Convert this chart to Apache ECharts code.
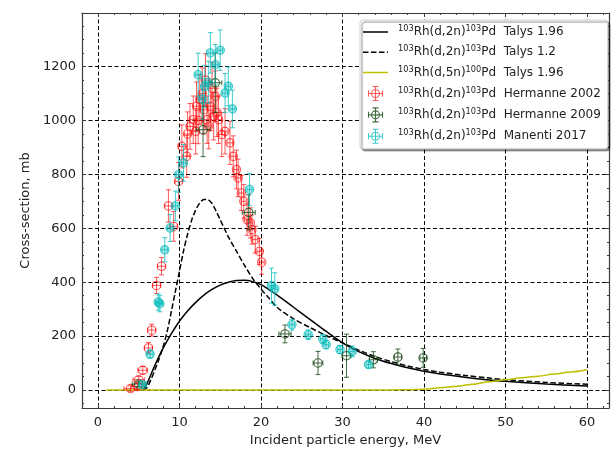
<!DOCTYPE html>
<html><head><meta charset="utf-8">
<script src="https://cdn.jsdelivr.net/npm/echarts@6/dist/echarts.min.js"></script>
<style>html,body{margin:0;padding:0;background:#fff}#c{width:611px;height:449px}</style>
</head><body><div id="c"></div>
<script>
// ---- tick values ----
const xMajor = [0, 10, 20, 30, 40, 50, 60];
const xMinor = [2,4,6,8,12,14,16,18,22,24,26,28,32,34,36,38,42,44,46,48,52,54,56,58,62];
const yMajor = [0, 200, 400, 600, 800, 1000, 1200];
const yMinor = [-50,50,100,150,250,300,350,450,500,550,650,700,750,850,900,950,1050,1100,1150,1250,1300,1350];

// ---- series names ----
const nameT196 = '¹⁰³Rh(d,2n)¹⁰³Pd  Talys 1.96';
const nameT12  = '¹⁰³Rh(d,2n)¹⁰³Pd  Talys 1.2';
const nameT5n  = '¹⁰³Rh(d,5n)¹⁰⁰Pd  Talys 1.96';
const nameH02  = '¹⁰³Rh(d,2n)¹⁰³Pd  Hermanne 2002';
const nameH09  = '¹⁰³Rh(d,2n)¹⁰³Pd  Hermanne 2009';
const nameM17  = '¹⁰³Rh(d,2n)¹⁰³Pd  Manenti 2017';

// ---- Talys 1.96 (d,2n) ----
const t196E = [5.5, 6, 7, 8, 9, 10, 11, 12, 13, 14, 15, 16, 17, 18, 19, 20, 22, 24, 26, 28, 30, 32, 34, 36, 38, 40, 42, 45, 48, 50, 55, 60];
const t196S = [0, 22, 92, 155, 208, 255, 293, 325, 352, 373, 389, 400, 406, 407, 402, 391, 352, 307, 262, 217, 175, 142, 117, 98, 82, 69, 59, 47, 37, 32, 22, 15];
// ---- Talys 1.2 (d,2n) ----
const t12E = [5.5, 6, 6.5, 7, 7.5, 8, 8.5, 9, 9.5, 10, 10.5, 11, 11.5, 12, 12.5, 13, 13.5, 14, 14.5, 15, 15.5, 16, 17, 18, 19, 20, 21, 22, 24, 26, 28, 30, 32, 34, 36, 38, 40, 42, 45, 48, 50, 55, 60];
const t12S = [0, 8, 38, 75, 115, 160, 217, 290, 365, 440, 515, 578, 630, 668, 694, 707, 706, 692, 664, 632, 600, 568, 515, 462, 413, 375, 340, 306, 264, 232, 202, 175, 148, 124, 105, 89, 76, 66, 54, 44, 38, 28, 21];
// ---- Talys 1.96 (d,5n) ----
const t5nE = [1, 36, 38, 40, 42, 44, 46, 48, 50, 52, 54, 56, 58, 60];
const t5nS = [0, 0, 1, 3, 8, 14, 21, 30, 38, 45, 51, 59, 67, 75];

// ---- Hermanne 2002 ----
const h02E  = [4.0, 4.85, 5.0, 5.5, 6.2, 6.6, 7.2, 7.8, 8.65, 9.3, 9.9, 10.3, 10.9, 11.0, 11.3, 11.7, 12.0, 12.1, 12.3, 12.5, 12.8, 13.0, 13.2, 13.4, 13.6, 13.8, 14.0, 14.2, 14.4, 14.6, 14.8, 15.2, 15.6, 16.2, 16.6, 17.0, 17.2, 17.6, 17.9, 18.3, 18.7, 18.9, 19.3, 19.8, 20.1];
const h02S  = [5, 13, 38, 73, 156, 222, 388, 459, 683, 607, 774, 904, 867, 950, 978, 1003, 960, 1053, 1000, 1078, 1100, 1040, 1150, 1003, 980, 1053, 1120, 1016, 1090, 1030, 1003, 948, 960, 917, 867, 818, 787, 731, 700, 632, 620, 595, 558, 514, 474];
const h02dE = [0.8, 0.7, 0.7, 0.6, 0.5, 0.5, 0.5, 0.5, 0.45, 0.45, 0.45, 0.4, 0.4, 0.4, 0.4, 0.4, 0.4, 0.4, 0.4, 0.4, 0.4, 0.4, 0.4, 0.4, 0.35, 0.35, 0.35, 0.35, 0.35, 0.35, 0.35, 0.35, 0.35, 0.35, 0.3, 0.3, 0.3, 0.3, 0.3, 0.3, 0.3, 0.3, 0.3, 0.3, 0.3];
const h02dS = [10, 12, 12, 14, 20, 22, 30, 32, 60, 55, 70, 80, 78, 82, 85, 88, 84, 90, 86, 92, 95, 90, 98, 88, 85, 90, 96, 88, 94, 90, 88, 82, 84, 80, 76, 72, 70, 65, 62, 58, 56, 54, 50, 48, 45];

// ---- Hermanne 2009 ----
const h09E  = [5.0, 12.9, 14.4, 18.5, 22.95, 27.0, 30.5, 33.8, 36.8, 39.9];
const h09S  = [22, 966, 1140, 659, 208, 100, 127, 112, 122, 119];
const h09dE = [0.8, 0.85, 0.8, 0.8, 0.75, 0.6, 0.55, 0.5, 0.45, 0.4];
const h09dS = [10, 100, 110, 65, 33, 43, 80, 30, 30, 35];

// ---- Manenti 2017 ----
const m17E  = [5.5, 6.4, 7.4, 7.6, 8.2, 8.86, 9.5, 9.9, 10.5, 12.3, 12.8, 13.1, 13.55, 13.8, 14.4, 15.0, 15.6, 16.0, 16.5, 18.6, 21.3, 21.7, 23.8, 25.8, 27.6, 28.0, 29.7, 31.2, 33.2];
const m17S  = [20, 133, 326, 320, 520, 601, 683, 799, 843, 1170, 1080, 1127, 1142, 1251, 1207, 1261, 1102, 1127, 1043, 744, 387, 375, 242, 205, 189, 168, 150, 143, 94];
const m17dE = [0.4, 0.35, 0.35, 0.35, 0.35, 0.3, 0.3, 0.3, 0.3, 0.3, 0.3, 0.3, 0.3, 0.3, 0.3, 0.3, 0.3, 0.3, 0.3, 0.3, 0.3, 0.3, 0.3, 0.3, 0.3, 0.3, 0.3, 0.3, 0.3];
const m17dS = [8, 15, 30, 30, 45, 50, 55, 65, 68, 80, 75, 78, 78, 75, 75, 75, 72, 72, 70, 60, 65, 60, 20, 18, 17, 15, 15, 20, 12];

// ---- colours ----
const cRed = 'rgba(255,0,0,0.65)';
const cGreen = 'rgba(20,70,20,0.8)';
const cCyan = 'rgba(0,185,185,0.75)';
const cCyanFill = 'rgba(0,185,185,0.3)';

const FONT = 'DejaVu Sans';
const zip = (a, b) => a.map((v, i) => [v, b[i]]);
const rows = (E, S, dE, dS) => E.map((e, i) => [e, S[i], dE[i], dS[i]]);

function errItem(color, fill) {
  return function (params, api) {
    const x = api.value(0), y = api.value(1), dx = api.value(2), dy = api.value(3);
    const c = api.coord([x, y]);
    const l = api.coord([x - dx, y]), r = api.coord([x + dx, y]);
    const t = api.coord([x, y + dy]), b = api.coord([x, y - dy]);
    const k = 2.5, R = 4.2;
    const st = { stroke: color, lineWidth: 1, fill: 'none' };
    const ln = (x1, y1, x2, y2) => ({ type: 'line', shape: { x1, y1, x2, y2 }, style: st });
    return {
      type: 'group', children: [
        ln(l[0], c[1], r[0], c[1]), ln(c[0], t[1], c[0], b[1]),
        ln(l[0], c[1] - k, l[0], c[1] + k), ln(r[0], c[1] - k, r[0], c[1] + k),
        ln(c[0] - k, t[1], c[0] + k, t[1]), ln(c[0] - k, b[1], c[0] + k, b[1]),
        { type: 'circle', shape: { cx: c[0], cy: c[1], r: R }, style: { stroke: color, lineWidth: 1.1, fill: fill || 'none' } }
      ]
    };
  };
}

const XMIN = -1.95, XMAX = 62.7, YMIN = -67, YMAX = 1399;
const spine = { show: true, onZero: false, lineStyle: { color: '#3a3a3a', width: 1.2 } };
const noLine = { show: false, onZero: false };
const gridLine = { show: true, lineStyle: { color: '#000', width: 1, type: [4, 2.5] } };
const lbl = { fontFamily: FONT, fontSize: 13, color: '#222', formatter: v => String(v) };

function ax(kind, pos, vals, len, major, extra) {
  return Object.assign({
    type: 'value', gridIndex: 0, position: pos,
    min: kind === 'x' ? XMIN : YMIN, max: kind === 'x' ? XMAX : YMAX,
    axisLine: major ? spine : noLine,
    axisTick: { show: true, inside: true, length: len, customValues: vals, lineStyle: { color: '#3a3a3a', width: 1 } },
    axisLabel: { show: false },
    splitLine: { show: false }
  }, extra || {});
}

// legend icons (tiny corner dots keep a 25x14 box)
const box = 'M0,0h0.01v0.01h-0.01z M24.99,13.99h0.01v0.01h-0.01z ';
const solidIcon = 'path://' + box + 'M0,6.25h25v1.5h-25z';
const dashIcon = 'path://' + box + 'M0,6.25h5.5v1.5h-5.5z M8,6.25h5.5v1.5h-5.5z M16,6.25h5.5v1.5h-5.5z M24,6.25h1v1.5h-1z';
const markerIcon = 'path://M0,7L14,7M7,0L7,14M4,0L10,0M4,14L10,14M0,4L0,10M14,4L14,10M11,7A4,4,0,1,1,3,7A4,4,0,1,1,11,7';

function legendText(name) {
  return name.split(/([¹⁰³⁵²⁴⁶⁷⁸⁹]+)/).filter(s => s.length).map(s => {
    if (/^[¹⁰³⁵²⁴⁶⁷⁸⁹]+$/.test(s)) {
      const d = s.replace(/[¹⁰³⁵²⁴⁶⁷⁸⁹]/g, ch => ({ '⁰': '0', '¹': '1', '²': '2', '³': '3', '⁴': '4', '⁵': '5', '⁶': '6', '⁷': '7', '⁸': '8', '⁹': '9' })[ch]);
      return '{s|' + d + '}';
    }
    return '{n|' + s + '}';
  }).join('');
}

const option = {
  animation: false,
  backgroundColor: '#fff',
  grid: { left: 82, right: 2, top: 13, bottom: 41, outerBoundsMode: 'none', containLabel: false },
  legend: {
    orient: 'vertical', left: 360, top: 20,
    padding: [5, 7, 5, 3], itemGap: 6.3, itemWidth: 25, itemHeight: 14,
    backgroundColor: '#fff', borderColor: '#cfcfcf', borderWidth: 1, borderRadius: 3,
    shadowColor: 'rgba(0,0,0,0.45)', shadowBlur: 1, shadowOffsetX: 2, shadowOffsetY: 2,
    formatter: legendText,
    textStyle: {
      fontFamily: FONT, fontSize: 12, color: '#222', lineHeight: 14, padding: [0, 0, 0, 5],
      rich: {
        n: { fontFamily: FONT, fontSize: 12, color: '#222', lineHeight: 14 },
        s: { fontFamily: FONT, fontSize: 8.2, color: '#222', lineHeight: 14, verticalAlign: 'top' }
      }
    },
    data: [
      { name: nameT196, icon: solidIcon, itemStyle: { color: '#000', borderWidth: 0 } },
      { name: nameT12, icon: dashIcon, itemStyle: { color: '#000', borderWidth: 0 } },
      { name: nameT5n, icon: solidIcon, itemStyle: { color: '#bfbf00', borderWidth: 0 } },
      { name: nameH02, icon: markerIcon, itemStyle: { color: 'transparent', borderColor: cRed, borderWidth: 1.1 } },
      { name: nameH09, icon: markerIcon, itemStyle: { color: 'transparent', borderColor: cGreen, borderWidth: 1.1 } },
      { name: nameM17, icon: markerIcon, itemStyle: { color: 'transparent', borderColor: cCyan, borderWidth: 1.1 } }
    ]
  },
  xAxis: [
    ax('x', 'bottom', xMajor, 4, true, {
      axisLabel: Object.assign({ show: true, customValues: xMajor, margin: 8 }, lbl),
      splitLine: gridLine,
      name: 'Incident particle energy, MeV', nameLocation: 'middle', nameGap: 26,
      nameTextStyle: { fontFamily: FONT, fontSize: 13, color: '#222' }
    }),
    ax('x', 'bottom', xMinor, 2, false),
    ax('x', 'top', xMajor, 4, true),
    ax('x', 'top', xMinor, 2, false)
  ],
  yAxis: [
    ax('y', 'left', yMajor, 4, true, {
      axisLabel: Object.assign({ show: true, customValues: yMajor, margin: 6 }, lbl),
      splitLine: gridLine,
      name: 'Cross-section, mb', nameLocation: 'middle', nameGap: 48,
      nameTextStyle: { fontFamily: FONT, fontSize: 13, color: '#222' }
    }),
    ax('y', 'left', yMinor, 2, false),
    ax('y', 'right', yMajor, 4, true),
    ax('y', 'right', yMinor, 2, false)
  ],
  series: [
    { type: 'line', name: nameT196, data: zip(t196E, t196S), symbol: 'none', smooth: 0.3,
      lineStyle: { color: '#000', width: 1.5 }, itemStyle: { color: '#000' }, z: 3 },
    { type: 'line', name: nameT12, data: zip(t12E, t12S), symbol: 'none', smooth: 0.3,
      lineStyle: { color: '#000', width: 1.5, type: [5.5, 2.5] }, itemStyle: { color: '#000' }, z: 3 },
    { type: 'line', name: nameT5n, data: zip(t5nE, t5nS), symbol: 'none', smooth: 0.3, smoothMonotone: 'x',
      lineStyle: { color: '#bfbf00', width: 1.5 }, itemStyle: { color: '#bfbf00' }, z: 3 },
    { type: 'custom', name: nameH02, data: rows(h02E, h02S, h02dE, h02dS), encode: { x: 0, y: 1 },
      renderItem: errItem(cRed), itemStyle: { color: cRed }, clip: true, z: 4 },
    { type: 'custom', name: nameH09, data: rows(h09E, h09S, h09dE, h09dS), encode: { x: 0, y: 1 },
      renderItem: errItem(cGreen), itemStyle: { color: cGreen }, clip: true, z: 4 },
    { type: 'custom', name: nameM17, data: rows(m17E, m17S, m17dE, m17dS), encode: { x: 0, y: 1 },
      renderItem: errItem(cCyan, cCyanFill), itemStyle: { color: cCyan }, clip: true, z: 4 }
  ]
};

const chart = echarts.init(document.getElementById('c'), null, { renderer: 'canvas' });
chart.setOption(option);
</script>
</body></html>
